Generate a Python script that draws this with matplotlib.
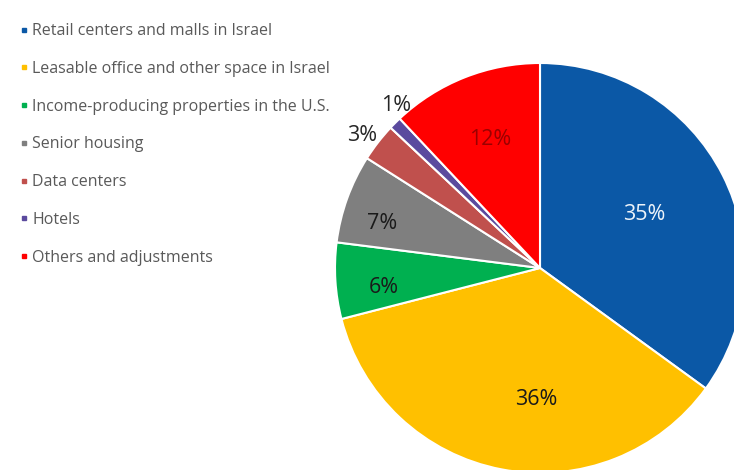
import matplotlib.pyplot as plt
from matplotlib.lines import Line2D
import numpy as np

# Segment shares (%)
segments = ["Retail centers and malls in Israel",
            "Leasable office and other space in Israel",
            "Income-producing properties in the U.S.",
            "Senior housing",
            "Data centers",
            "Hotels",
            "Others and adjustments"]
shares = [35, 36, 6, 7, 3, 1, 12]

colors = ["#0B58A6", "#FFC000", "#00B050", "#7F7F7F", "#C0504D", "#5B4A9E", "#FF0000"]
label_colors = ["#EEF4FA", "#1a1a1a", "#1a1a1a", "#1a1a1a", "#262626", "#262626", "#9A0000"]
label_dist = [0.57, 0.64, 0.77, 0.80, 1.08, 1.06, 0.67]
# where along each wedge (0 = start, 1 = end, clockwise) the label sits
label_frac = [0.5, 0.43, 0.33, 0.345, 0.39, 1.5, 0.51]

fig = plt.figure(figsize=(7.34, 4.70), dpi=100)
ax = fig.add_axes([0, 0, 1, 1])

wedges, _ = ax.pie(shares, colors=colors, startangle=90, counterclock=False,
                   wedgeprops=dict(edgecolor="white", linewidth=1.5))

# percentage labels
for w, s, c, d, f in zip(wedges, shares, label_colors, label_dist, label_frac):
    # clockwise wedges: theta2 is the start edge, theta1 the end edge
    ang = np.deg2rad(w.theta2 + f * (w.theta1 - w.theta2))
    ax.text(d * np.cos(ang), d * np.sin(ang), f"{s}%", ha="center", va="center",
            fontsize=15.5, color=c, family="Open Sans")

# pie of radius 1 centred at (540, 268) px with 205 px per unit
ax.set_xlim(-540 / 205, (734 - 540) / 205)
ax.set_ylim(-(470 - 268) / 205, 268 / 205)
ax.set_aspect("auto")
ax.axis("off")

handles = [Line2D([], [], marker="s", linestyle="none", markersize=3.5,
                  markerfacecolor=c, markeredgecolor=c) for c in colors]
leg = ax.legend(handles, segments, loc="upper left", bbox_to_anchor=(0.009, 0.981),
                frameon=False, handlelength=0.4, handletextpad=0.3,
                labelspacing=1.36, prop={"family": "Open Sans", "size": 11.5})
for t in leg.get_texts():
    t.set_color("#595959")

fig.savefig("out.png", dpi=100)
